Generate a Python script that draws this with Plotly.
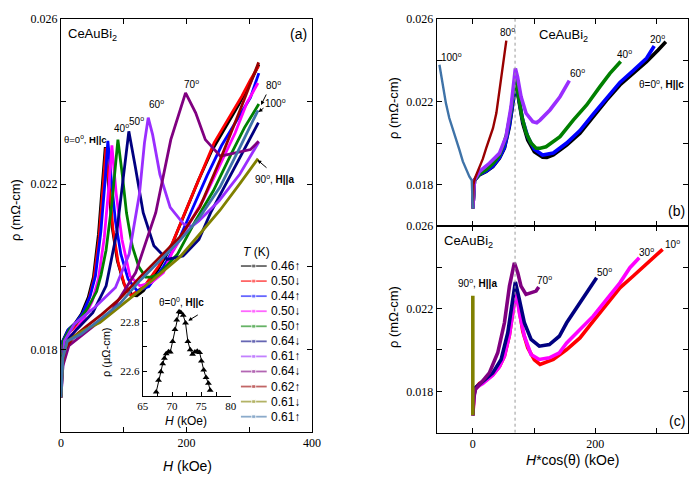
import numpy as np
import plotly.graph_objects as go

# field angles, measuring temperatures (legend) and colours
ANGLES = [0, 10, 20, 30, 40, 50, 60, 70, 80, 90, 100]
TEMPS = ["0.46↑", "0.50↓", "0.44↑", "0.50↓", "0.50↑", "0.64↓",
         "0.61↑", "0.64↓", "0.62↑", "0.61↓", "0.61↑"]
COLORS = ["#000000", "#FF0000", "#0000FF", "#FF00FF", "#008000", "#000080",
          "#9A2EFF", "#800080", "#990000", "#808000", "#3F73A8"]

# rho (mOhm-cm) vs H (kOe) for every angle
H_0 = [0, 2.7, 10.8, 21.7, 32.6, 43.4, 51.6, 59.7, 66.3, 70.5, 76, 81.6, 89.7,
       100.5, 114, 121, 131.5, 153.3, 175, 196.7, 218.6, 240.3, 262, 283.8, 302.8, 315.3]
RHO_0 = [0.01684, 0.0182, 0.01846, 0.01862, 0.01886, 0.01926, 0.01975, 0.02079,
         0.02208, 0.0229, 0.02192, 0.02095, 0.02015, 0.01958, 0.01931, 0.0193,
         0.01942, 0.0199, 0.02047, 0.02127, 0.02208, 0.02281, 0.02337, 0.02394,
         0.0245, 0.0249]

H_10 = [0, 2.7, 11.0, 22.0, 33.1, 44.1, 52.4, 60.6, 67.3, 71.6, 77.2, 82.9, 91.1,
        102.1, 111.5, 133.5, 155.7, 177.7, 199.7, 222.0, 244.0, 266.1, 288.2, 302.0, 314.8]
RHO_10 = [0.01684, 0.0181, 0.01838, 0.01855, 0.0188, 0.0192, 0.0197, 0.0207,
          0.0220, 0.02288, 0.0219, 0.0209, 0.0201, 0.01952, 0.0193, 0.01954,
          0.02002, 0.02058, 0.02139, 0.0222, 0.023, 0.02357, 0.02413, 0.02453, 0.02486]

H_20 = [0, 2.9, 11.5, 23.1, 34.7, 46.2, 54.9, 63.5, 70.6, 74.7, 80.9, 86.8, 95.5,
        107, 121.3, 139.9, 163.1, 186.2, 209.3, 232.6, 255.7, 278.8, 302, 315.3]
RHO_20 = [0.01684, 0.0182, 0.01848, 0.01864, 0.01888, 0.01928, 0.01978, 0.02085,
          0.02215, 0.02305, 0.022, 0.0211, 0.0203, 0.0197, 0.01942, 0.01952, 0.02,
          0.0206, 0.0214, 0.0222, 0.02293, 0.0235, 0.0241, 0.02469]

H_30 = [0, 3.1, 12.5, 18.8, 37.6, 50.1, 59.6, 68.9, 76.6, 81.1, 87.8, 97.2, 109.8,
        125.4, 144.3, 163.2, 177, 202.1, 227.1, 252.4, 277.5, 296.3, 313.9]
RHO_30 = [0.01684, 0.0181, 0.01828, 0.01838, 0.01878, 0.01918, 0.0197, 0.0207,
          0.0220, 0.02294, 0.02179, 0.02066, 0.01978, 0.01954, 0.01962, 0.01986,
          0.02034, 0.02099, 0.02163, 0.02244, 0.02324, 0.02397, 0.02445]

H_40 = [0, 3.5, 14.1, 28.3, 42.6, 56.7, 63.8, 71.8, 80.9, 86.8, 90.7, 97.9, 104.4,
        113.6, 124, 134.9, 143.6, 156.1, 185.9, 214.2, 242.8, 271.1, 292.4, 315.3]
RHO_40 = [0.01684, 0.0182, 0.0185, 0.0187, 0.019, 0.0194, 0.0198, 0.0204, 0.0215,
          0.0224, 0.02308, 0.0222, 0.0213, 0.0205, 0.02, 0.01975, 0.01975, 0.01982,
          0.02031, 0.02111, 0.02184, 0.02273, 0.02337, 0.02394]

H_50 = [0, 2, 6.7, 25.4, 50.7, 71.9, 88.7, 101.6, 108.1, 118.2, 131, 148, 169,
        194.5, 219.8, 238.5, 272.2, 297.8, 314.6]
RHO_50 = [0.01684, 0.0177, 0.01817, 0.01849, 0.01889, 0.01954, 0.02082, 0.02244,
          0.02328, 0.02244, 0.02131, 0.02051, 0.02018, 0.02026, 0.02066, 0.02131,
          0.02228, 0.023, 0.02349]

H_60 = [0, 5.4, 21.6, 54, 86.8, 108.6, 125, 133, 139, 146, 157.6, 174, 195.8,
        208.8, 219.6, 252, 284.8, 315.2]
RHO_60 = [0.01684, 0.0182, 0.01862, 0.01902, 0.0195, 0.02031, 0.02176, 0.0230,
          0.02361, 0.0232, 0.02224, 0.02144, 0.02103, 0.02098, 0.02111, 0.0216,
          0.02224, 0.02302]

H_70 = [0, 3, 12.6, 39.5, 79, 119, 151, 175, 198.5, 214.6, 230, 254, 278, 302, 315]
RHO_70 = [0.01684, 0.0176, 0.01809, 0.01841, 0.01889, 0.01986, 0.02131, 0.02308,
          0.02421, 0.02373, 0.02308, 0.02268, 0.02276, 0.02284, 0.02304]

H_80 = [0, 2, 6, 20, 40, 65, 94, 125.9, 157.8, 189.6, 221.5, 253.4, 285.3, 315]
RHO_80 = [0.01684, 0.0176, 0.0180, 0.0183, 0.01855, 0.01885, 0.01923, 0.01975,
          0.02024, 0.02072, 0.02145, 0.02258, 0.02379, 0.02495]

H_90 = [0, 3, 10, 35, 62, 94, 126, 157.8, 189.6, 221.5, 253.4, 285.3, 314]
RHO_90 = [0.01684, 0.0178, 0.0182, 0.01845, 0.01865, 0.01903, 0.01943, 0.01983,
          0.02024, 0.0208, 0.02137, 0.02202, 0.02262]

H_100 = [0, 3, 10, 32, 60, 94, 126, 157.8, 189.6, 221.5, 253.4, 285.3, 314]
RHO_100 = [0.01684, 0.0178, 0.0182, 0.01837, 0.0187, 0.01911, 0.01967, 0.02016,
           0.02064, 0.02121, 0.02193, 0.0229, 0.02379]

# inset: theta = 0, rho in micro-Ohm-cm
INSET_H = [67.3, 67.7, 68.1, 68.4, 68.7, 69.0, 69.4, 69.7, 70.1, 70.5, 70.8, 71.2,
           71.5, 71.9, 72.3, 72.7, 73.1, 73.5, 73.9, 74.3, 74.7, 75.0, 75.4, 75.8,
           76.2, 76.5]
INSET_RHO = [22.515, 22.563, 22.597, 22.629, 22.652, 22.670, 22.678, 22.677, 22.72,
             22.768, 22.807, 22.84, 22.837, 22.826, 22.795, 22.72, 22.686, 22.668,
             22.677, 22.68, 22.675, 22.641, 22.604, 22.574, 22.55, 22.522]

PEAK_HC = 69  # dotted guide in (b) and (c)

PANEL_B = [0, 20, 40, 60, 80, 100]
PANEL_C = [10, 30, 50, 70, 90]

curves = {0: (H_0, RHO_0), 10: (H_10, RHO_10), 20: (H_20, RHO_20),
          30: (H_30, RHO_30), 40: (H_40, RHO_40), 50: (H_50, RHO_50),
          60: (H_60, RHO_60), 70: (H_70, RHO_70), 80: (H_80, RHO_80),
          90: (H_90, RHO_90), 100: (H_100, RHO_100)}
color_of = dict(zip(ANGLES, COLORS))

W, HT = 698, 488
def px(x): return x / W
def py(y): return 1 - y / HT

SANS = "Liberation Sans, Arial, sans-serif"
SERIF = "Liberation Serif, Times New Roman, serif"

fig = go.Figure()

# panel (a)
for ang in ANGLES:
    h, r = curves[ang]
    fig.add_trace(go.Scatter(x=h, y=r, mode="lines", xaxis="x", yaxis="y",
                             line=dict(color=color_of[ang], width=2.8),
                             showlegend=False, hoverinfo="skip"))

# panels (b) and (c): rho vs H*cos(theta)
for axn, group in (("2", PANEL_B), ("3", PANEL_C)):
    for ang in group:
        h, r = curves[ang]
        hc = np.array(h) * np.cos(np.radians(ang))
        lw = 2.4 if ang in (80, 100) else 3.6
        fig.add_trace(go.Scatter(x=hc, y=r, mode="lines", xaxis="x" + axn, yaxis="y" + axn,
                                 line=dict(color=color_of[ang], width=lw),
                                 showlegend=False, hoverinfo="skip"))
    fig.add_trace(go.Scatter(x=[PEAK_HC, PEAK_HC], y=[0.016, 0.026], mode="lines",
                             xaxis="x" + axn, yaxis="y" + axn,
                             line=dict(color="#999999", width=1, dash="dot"),
                             showlegend=False, hoverinfo="skip"))

# inset
fig.add_trace(go.Scatter(x=INSET_H, y=INSET_RHO, mode="lines+markers", xaxis="x4", yaxis="y4",
                         line=dict(color="black", width=1),
                         marker=dict(symbol="triangle-up", size=6, color="black"),
                         showlegend=False, hoverinfo="skip"))

# hand-made legend (T (K))
for i, (t, col) in enumerate(zip(TEMPS, COLORS)):
    fig.add_trace(go.Scatter(x=[0, 0.5, 1], y=[i, i, i], mode="lines+markers",
                             xaxis="x5", yaxis="y5",
                             line=dict(color=col, width=1.8), opacity=0.6,
                             marker=dict(size=[0, 4, 0], color=col, symbol="square"),
                             showlegend=False, hoverinfo="skip"))
    fig.add_annotation(x=1.1, y=i, xref="x5", yref="y5", text=t, showarrow=False,
                       xanchor="left", font=dict(family=SANS, size=12, color="black"))

frame = dict(showline=True, linecolor="black", linewidth=1, mirror="ticks",
             ticks="inside", ticklen=5, tickcolor="black", showgrid=False,
             zeroline=False, automargin=False,
             tickfont=dict(family=SERIF, size=12, color="black"))
rho_ticks = dict(tickvals=[0.018, 0.020, 0.022, 0.024, 0.026],
                 ticktext=["0.018", "", "0.022", "", "0.026"], range=[0.016, 0.026])
inset_ax = dict(showline=True, linecolor="black", linewidth=1, ticks="inside", ticklen=4,
                tickcolor="black", showgrid=False, zeroline=False, automargin=False,
                tickfont=dict(family=SERIF, size=11, color="black"))

fig.update_layout(
    width=W, height=HT, margin=dict(l=0, r=0, t=0, b=0, pad=0), autosize=False,
    paper_bgcolor="white", plot_bgcolor="white", showlegend=False,
    xaxis=dict(frame, domain=[px(61), px(312)], range=[0, 400], anchor="y",
               tickvals=[0, 100, 200, 300, 400], ticktext=["0", "", "200", "", "400"]),
    yaxis=dict(frame, domain=[py(432), py(19)], anchor="x", **rho_ticks),
    xaxis2=dict(frame, domain=[px(436.7), px(687.7)], range=[-59, 351], anchor="y2",
                tickvals=[0, 100, 200, 300], showticklabels=False),
    yaxis2=dict(frame, domain=[py(225.7), py(19)], anchor="x2", **rho_ticks),
    xaxis3=dict(frame, domain=[px(436.7), px(687.7)], range=[-59, 351], anchor="y3",
                tickvals=[0, 100, 200, 300], ticktext=["0", "", "200", ""]),
    yaxis3=dict(frame, domain=[py(432.7), py(225.7)], anchor="x3", **rho_ticks),
    xaxis4=dict(inset_ax, domain=[px(142.7), px(230.7)], range=[65, 80], anchor="y4",
                tickvals=[65, 67.5, 70, 72.5, 75, 77.5, 80],
                ticktext=["65", "", "70", "", "75", "", "80"]),
    yaxis4=dict(inset_ax, domain=[py(395.7), py(297)], range=[22.5, 22.9], anchor="x4",
                tickvals=[22.5, 22.6, 22.7, 22.8, 22.9],
                ticktext=["", "22.6", "", "22.8", ""]),
    xaxis5=dict(domain=[px(240.7), px(300.7)], range=[0, 60 / 26], anchor="y5",
                visible=False, fixedrange=True, automargin=False),
    yaxis5=dict(domain=[py(424.2), py(258.5)], range=[10.5, -0.5], anchor="x5",
                visible=False, fixedrange=True, automargin=False),
)

def label(x, y, text, size=10, anchor="left", angle=0):
    fig.add_annotation(x=px(x), y=py(y), xref="paper", yref="paper", text=text,
                       showarrow=False, xanchor=anchor, yanchor="middle",
                       textangle=angle, font=dict(family=SANS, size=size, color="black"))

def arrow(x0, y0, x1, y1):
    fig.add_annotation(x=px(x1), y=py(y1), xref="paper", yref="paper", text="",
                       showarrow=True, ax=x0 - x1, ay=y0 - y1, arrowhead=2,
                       arrowsize=0.8, arrowwidth=1, arrowcolor="black")

deg = "<sup>o</sup>"

# axis titles
label(15, 210, "ρ (mΩ-cm)", 13, "center", -90)
label(187, 466, "<i>H</i> (kOe)", 14, "center")
label(393, 108, "ρ (mΩ-cm)", 13, "center", -90)
label(393, 317, "ρ (mΩ-cm)", 13, "center", -90)
label(572, 460, "<i>H</i>*cos(θ) (kOe)", 14, "center")
label(106, 352, "ρ (μΩ-cm)", 11, "center", -90)
label(186, 421, "<i>H</i> (kOe)", 12, "center")
label(240.7, 252, "<i>T</i> (K)", 12)

# panel (a)
label(66, 34, "CeAuBi<sub>2</sub>", 13)
label(288, 34, "(a)", 14)
label(62, 139, "θ=0" + deg + ", <b>H||c</b>", 9.5)
label(112, 128, "40" + deg)
label(127, 121, "50" + deg)
label(146.5, 104, "60" + deg)
label(182, 84, "70" + deg)
label(264, 85, "80" + deg)
label(263, 103, "100" + deg)
label(253, 179, "90" + deg + ", <b>H||a</b>")
arrow(267, 93, 261, 105)
arrow(265, 107, 258.5, 112)
arrow(268, 169, 257.5, 160)
label(157, 302, "θ=0<sup>0</sup>, <b>H||c</b>", 10)
arrow(199.3, 314, 188.3, 320.7)

# panel (b)
label(498, 32, "80" + deg)
label(537, 36, "CeAuBi<sub>2</sub>", 13)
label(648, 39, "20" + deg)
label(439, 57, "100" + deg)
label(615, 54, "40" + deg)
label(568, 73, "60" + deg)
label(637, 84, "θ=0" + deg + ", <b>H||c</b>", 10)
label(666, 211, "(b)", 14)

# panel (c)
label(442, 241, "CeAuBi<sub>2</sub>", 13)
label(456, 283, "90" + deg + ", <b>H||a</b>")
label(535, 280, "70" + deg)
label(595, 272, "50" + deg)
label(637, 252, "30" + deg)
label(663, 244, "10" + deg)
label(667, 421, "(c)", 14)

fig.write_html("out.html", config={"displayModeBar": False, "staticPlot": True},
               post_script="document.body.style.margin='0';document.body.style.overflow='hidden';")
